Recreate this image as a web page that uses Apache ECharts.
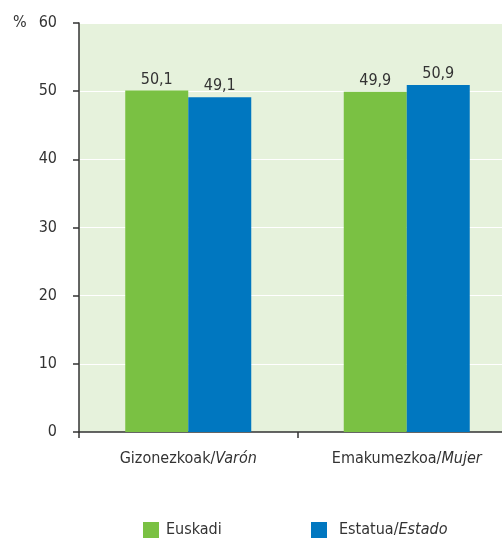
<!DOCTYPE html>
<html><head><meta charset="utf-8">
<script src="https://cdn.jsdelivr.net/npm/echarts@6/dist/echarts.min.js"></script>
<style>html,body{margin:0;padding:0;background:#fff;overflow:hidden}#c{width:516px;height:538px}</style>
</head><body><div id="c"></div>
<script>
var categories = ['Gizonezkoak/|Varón', 'Emakumezkoa/|Mujer'];
var euskadi = [50.1, 49.9];
var estatua = [49.1, 50.9];
var yTicks = [0, 10, 20, 30, 40, 50, 60];

var FONT = "'DejaVu Sans Condensed', sans-serif";
var FS = 16;
var TXT = '#333333';
var chart = echarts.init(document.getElementById('c'));
function fmt(v){ return String(v.toFixed(1)).replace('.', ','); }
chart.setOption({
  animation: false,
  textStyle: {fontFamily: FONT, color: TXT},
  grid: {left: 79, right: 0, top: 23, bottom: 106, show: true, backgroundColor: '#e6f2dc', borderWidth: 0, containLabel: false},
  legend: [
    {data: ['Euskadi'], left: 143, top: 522, padding: 0, itemWidth: 16, itemHeight: 16, itemGap: 7, icon: 'rect',
     textStyle: {fontFamily: FONT, fontSize: FS, color: TXT, padding: [0,0,0,2]}},
    {data: ['Estatua/Estado'], left: 311, top: 522, padding: 0, itemWidth: 16, itemHeight: 16, icon: 'rect',
     formatter: function(){ return 'Estatua/{i|Estado}'; },
     textStyle: {fontFamily: FONT, fontSize: FS, color: TXT, padding: [0,0,0,7], rich: {i: {fontStyle: 'italic', fontFamily: FONT, fontSize: FS, color: TXT}}}}
  ],
  xAxis: {
    type: 'category', data: categories,
    axisLine: {show: true, lineStyle: {color: '#333', width: 1.5}},
    axisTick: {show: true, length: 6, lineStyle: {color: '#333', width: 1.5}},
    axisLabel: {
      interval: 0, margin: 19, fontSize: FS, color: TXT, fontFamily: FONT,
      formatter: function(v){ var p = v.split('|'); return p[0] + '{i|' + p[1] + '}'; },
      rich: {i: {fontStyle: 'italic', fontSize: FS, color: TXT, fontFamily: FONT}}
    }
  },
  yAxis: {
    type: 'value', min: yTicks[0], max: yTicks[yTicks.length-1], interval: 10,
    name: '%', nameLocation: 'end', nameGap: 0,
    nameTextStyle: {fontFamily: FONT, fontSize: FS, color: TXT, align: 'left', verticalAlign: 'middle', padding: [0, 0, 0, -66]},
    axisLine: {show: true, lineStyle: {color: '#333', width: 1.5}},
    axisTick: {show: true, inside: false, length: 6, lineStyle: {color: '#333', width: 1.5}},
    axisLabel: {margin: 22, fontSize: FS, color: TXT, fontFamily: FONT},
    splitLine: {show: true, lineStyle: {color: '#ffffff', width: 1}}
  },
  series: [
    {name: 'Euskadi', type: 'bar', data: euskadi, barWidth: 63, barGap: '0%', itemStyle: {color: '#7ac143'},
     label: {show: true, position: 'top', distance: 3, fontSize: FS, color: TXT, fontFamily: FONT, formatter: function(p){ return fmt(p.value); }}},
    {name: 'Estatua/Estado', type: 'bar', data: estatua, barWidth: 63, barGap: '0%', itemStyle: {color: '#0077c0'},
     label: {show: true, position: 'top', distance: 3, fontSize: FS, color: TXT, fontFamily: FONT, formatter: function(p){ return fmt(p.value); }}}
  ]
});
</script></body></html>
